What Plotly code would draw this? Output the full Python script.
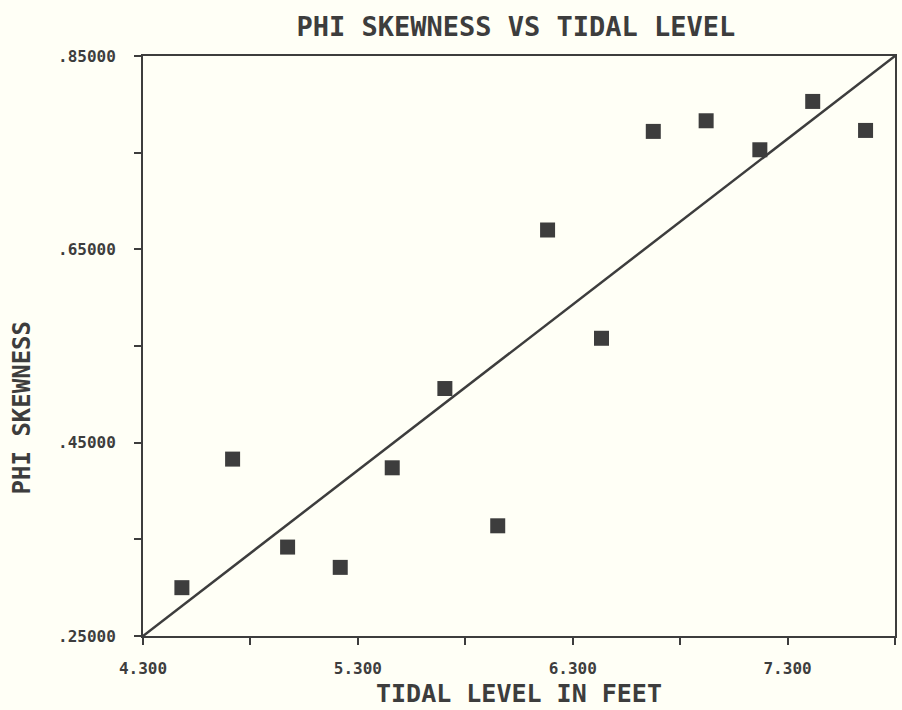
import plotly.graph_objects as go

tidal_level = [4.481, 4.717, 4.973, 5.218, 5.460, 5.705, 5.951, 6.183, 6.434, 6.675, 6.921, 7.171, 7.417, 7.663]
phi_skewness = [0.300, 0.433, 0.342, 0.321, 0.424, 0.506, 0.364, 0.670, 0.558, 0.772, 0.783, 0.753, 0.803, 0.773]
fit_x = [4.3, 7.8]
fit_y = [0.25, 0.85]

x_major = [4.3, 5.3, 6.3, 7.3]
x_major_text = ["4.300", "5.300", "6.300", "7.300"]
y_major = [0.25, 0.45, 0.65, 0.85]
y_major_text = [".25000", ".45000", ".65000", ".85000"]

ink = "#3d3d3d"
paper = "#fffff6"
font_main = "DejaVu Sans Mono"

fig = go.Figure()
fig.add_trace(go.Scatter(x=fit_x, y=fit_y, mode="lines",
                         line=dict(color=ink, width=2.5), showlegend=False, cliponaxis=False))
fig.add_trace(go.Scatter(x=tidal_level, y=phi_skewness, mode="markers",
                         marker=dict(symbol="square", size=15, color=ink, line=dict(width=0)),
                         showlegend=False))

fig.update_layout(
    width=902, height=710,
    margin=dict(l=143, r=5, t=56, b=74),
    paper_bgcolor=paper, plot_bgcolor=paper,
    font=dict(family=font_main, color=ink),
    title=dict(text="<b>PHI SKEWNESS VS TIDAL LEVEL</b>", x=0.572, xanchor="center",
               y=1 - 27 / 710, yanchor="middle", yref="container",
               font=dict(size=27, family=font_main, color=ink)),
    xaxis=dict(range=[4.3, 7.8], tickvals=x_major, ticktext=x_major_text,
               ticks="outside", ticklen=7, tickwidth=2, tickcolor=ink,
               minor=dict(tickvals=[4.8, 5.8, 6.8, 7.8], ticks="outside", ticklen=7, tickwidth=2, tickcolor=ink),
               showline=True, linecolor=ink, linewidth=2, mirror=True, showgrid=False, zeroline=False,
               tickfont=dict(size=16, family=font_main, color=ink, weight="bold"),
               ticklabelstandoff=10,
               title=dict(text="<b>TIDAL LEVEL IN FEET</b>", font=dict(size=25, family=font_main, color=ink), standoff=7)),
    yaxis=dict(range=[0.25, 0.85], tickvals=y_major, ticktext=y_major_text,
               ticks="outside", ticklen=7, tickwidth=2, tickcolor=ink,
               minor=dict(tickvals=[0.35, 0.55, 0.75], ticks="outside", ticklen=7, tickwidth=2, tickcolor=ink),
               showline=True, linecolor=ink, linewidth=2, mirror=True, showgrid=False, zeroline=False,
               tickfont=dict(size=16, family=font_main, color=ink, weight="bold"),
               ticklabelstandoff=15),
    annotations=[dict(text="<b>PHI SKEWNESS</b>", xref="paper", yref="paper", x=-143/754 + 22/754, y=0.393,
                      textangle=-90, showarrow=False, xanchor="center", yanchor="middle",
                      font=dict(size=24, family=font_main, color=ink))],
)

fig.write_html("out.html")
